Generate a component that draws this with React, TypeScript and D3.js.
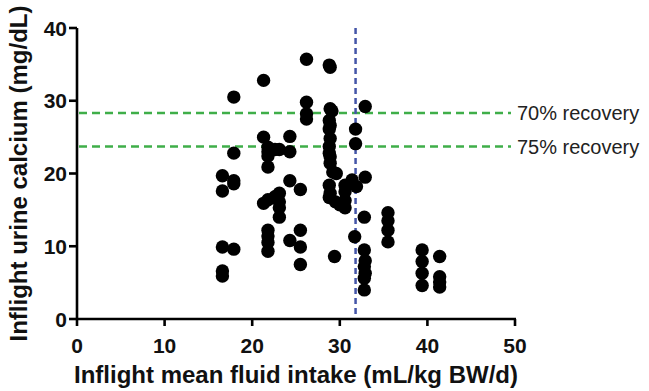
import React from "react";
import * as d3 from "d3";

// x: inflight mean fluid intake (mL/kg BW/d), y: inflight urine calcium (mg/dL)
const pointsX = [
  16.6, 16.6, 16.6, 16.6, 16.6,
  17.9, 17.9, 17.9, 17.9, 17.9,
  21.3, 21.3, 21.3,
  21.8, 21.8, 21.8, 21.8, 21.8, 21.8, 21.8, 21.8, 21.8,
  22.6, 22.6,
  23.1, 23.1, 23.1, 23.1, 23.1,
  24.3, 24.3, 24.3, 24.3,
  25.5, 25.5, 25.5, 25.5,
  26.2, 26.2, 26.2, 26.2,
  28.8, 28.9, 28.9, 29.1, 28.8, 28.9, 28.8, 28.9, 28.8, 28.8, 28.9, 28.9, 29.2, 28.8, 28.9, 28.8,
  29.5, 29.6, 29.4,
  30.0,
  30.6, 30.6, 30.6, 30.6,
  31.4,
  31.8, 31.8, 31.9, 31.7,
  32.9, 32.9, 32.8, 32.8, 32.9, 32.8, 32.9, 32.8, 32.8,
  35.5, 35.5, 35.5, 35.5,
  39.4, 39.4, 39.4, 39.4,
  41.4, 41.4, 41.4, 41.4,
];
const pointsY = [
  19.7, 17.6, 9.9, 6.6, 5.9,
  30.5, 22.8, 19.0, 18.6, 9.6,
  32.8, 25.0, 15.9,
  23.6, 23.0, 22.4, 20.9, 16.4, 12.2, 11.4, 10.5, 9.3,
  23.3, 16.8,
  23.3, 17.3, 16.1, 15.3, 14.0,
  25.1, 23.0, 19.0, 10.8,
  17.8, 12.2, 9.9, 7.5,
  35.7, 29.8, 28.2, 27.5,
  34.9, 34.6, 28.9, 28.6, 27.3, 26.6, 26.1, 24.8, 23.7, 22.8, 22.3, 21.4, 20.2, 18.4, 17.3, 16.7,
  16.1, 20.0, 8.6,
  15.7,
  18.4, 17.5, 16.3, 15.3,
  19.1,
  26.1, 24.1, 18.2, 11.3,
  29.2, 19.5, 14.0, 9.5, 8.0, 7.2, 6.3, 5.6, 4.0,
  14.6, 13.5, 12.2, 10.6,
  9.5, 7.9, 6.3, 4.6,
  8.6, 5.8, 5.1, 4.4,
];

const xTicks = [0, 10, 20, 30, 40, 50];
const yTicks = [0, 10, 20, 30, 40];

const recoveryLines = [
  { value: 28.3, label: "70% recovery" },
  { value: 23.7, label: "75% recovery" },
];
const cutoffX = 31.8;

const W = 649;
const H = 391;
const margin = { left: 77, right: 134, top: 28, bottom: 72 };

export default function App() {
  const x = d3.scaleLinear().domain([0, 50]).range([margin.left, W - margin.right]);
  const y = d3.scaleLinear().domain([0, 40]).range([H - margin.bottom, margin.top]);
  const font = "'Liberation Sans', Arial, sans-serif";

  return (
    <svg
      width={W}
      height={H}
      style={{ position: "absolute", left: 0, top: 0, background: "#fff" }}
      fontFamily={font}
    >
      {/* recovery reference lines */}
      {recoveryLines.map((r) => (
        <g key={r.label}>
          <line
            x1={x(0) + 2}
            x2={x(50) - 4}
            y1={y(r.value)}
            y2={y(r.value)}
            stroke="#3fae49"
            strokeWidth={2.5}
            strokeDasharray="8 5"
          />
          <text x={x(50) + 2} y={y(r.value) + 7} fontSize={20} fill="#222">
            {r.label}
          </text>
        </g>
      ))}

      {/* fluid intake cutoff */}
      <line
        x1={x(cutoffX)}
        x2={x(cutoffX)}
        y1={y(40)}
        y2={y(0.4)}
        stroke="#4455a8"
        strokeWidth={2.5}
        strokeDasharray="6 4"
      />

      {/* points */}
      {pointsX.map((px, i) => (
        <circle key={i} cx={x(px)} cy={y(pointsY[i])} r={6.7} fill="#000" />
      ))}

      {/* axes */}
      <line x1={x(0)} x2={x(50) + 1} y1={y(0)} y2={y(0)} stroke="#000" strokeWidth={2.6} />
      <line x1={x(0)} x2={x(0)} y1={y(0) + 1} y2={y(40)} stroke="#000" strokeWidth={2.6} />
      {xTicks.map((t) => (
        <g key={t}>
          <line x1={x(t)} x2={x(t)} y1={y(0)} y2={y(0) + 7} stroke="#000" strokeWidth={2.6} />
          <text x={x(t)} y={y(0) + 34} textAnchor="middle" fontSize={21} fontWeight="bold" fill="#111">
            {t}
          </text>
        </g>
      ))}
      {yTicks.map((t) => (
        <g key={t}>
          <line x1={x(0) - 8} x2={x(0)} y1={y(t)} y2={y(t)} stroke="#000" strokeWidth={2.6} />
          <text
            x={x(0) - 10}
            y={y(t) + 7.5}
            textAnchor="end"
            fontSize={21}
            fontWeight="bold"
            fill="#111"
          >
            {t}
          </text>
        </g>
      ))}

      <text x={296} y={383} textAnchor="middle" fontSize={24} fontWeight="bold" fill="#111">
        Inflight mean fluid intake (mL/kg BW/d)
      </text>
      <text
        transform={`translate(27,${(y(0) + y(40)) / 2}) rotate(-90)`}
        textAnchor="middle"
        fontSize={24}
        fontWeight="bold"
        fill="#111"
      >
        Inflight urine calcium (mg/dL)
      </text>
    </svg>
  );
}
